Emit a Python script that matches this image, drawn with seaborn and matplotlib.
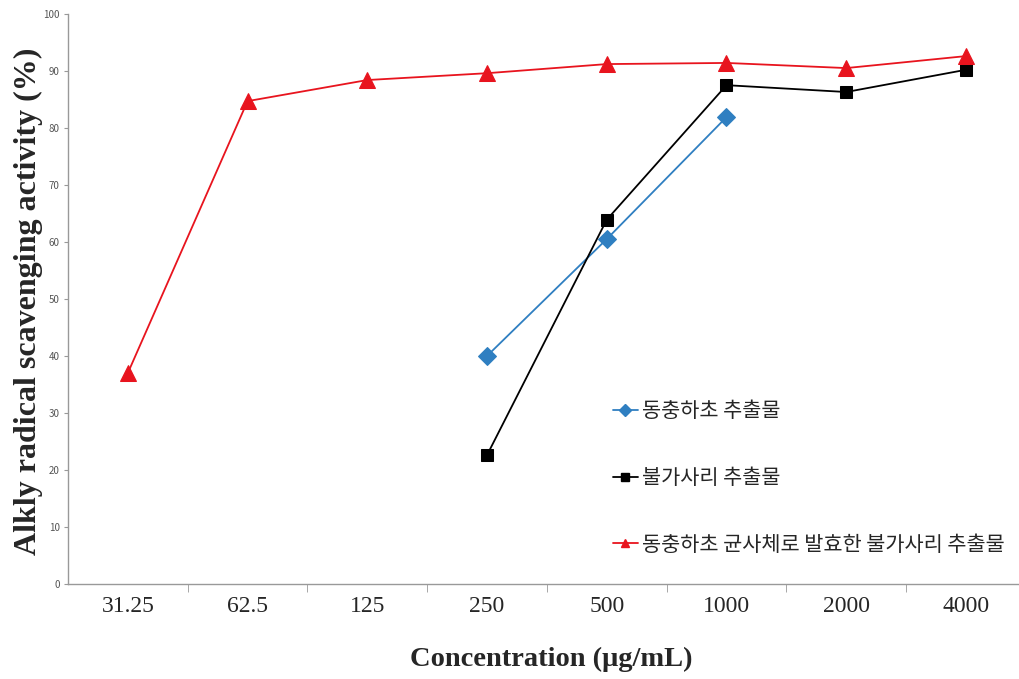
import matplotlib
matplotlib.use("Agg")
import matplotlib.pyplot as plt
import seaborn as sns
import pandas as pd
import numpy as np
from matplotlib.lines import Line2D

# concentrations on the x axis (categorical)
conc = ["31.25", "62.5", "125", "250", "500", "1000", "2000", "4000"]

# alkyl radical scavenging activity (%)
dongchung = [np.nan, np.nan, np.nan, 40.0, 60.5, 81.9, np.nan, np.nan]
bulgasari = [np.nan, np.nan, np.nan, 22.6, 63.9, 87.5, 86.3, 90.2]
fermented = [37.0, 84.7, 88.4, 89.6, 91.2, 91.4, 90.5, 92.6]

names = ["동충하초 추출물", "불가사리 추출물", "동충하초 균사체로 발효한 불가사리 추출물"]
colors = ["#2f7fc1", "black", "#e8141e"]
markers = ["D", "s", "^"]
msizes = [9, 9, 11]

sns.set_style("white")
plt.rcParams['font.family'] = ['Noto Sans CJK KR', 'DejaVu Sans']

fig = plt.figure(figsize=(10.19, 6.79), dpi=100)
ax = fig.add_axes([0.0667, 0.14, 0.94, 0.8395])

pos = list(range(len(conc)))
handles = []
for vals, name, c, m, ms in zip([dongchung, bulgasari, fermented], names,
                                colors, markers, msizes):
    df = pd.DataFrame({"x": pos, "y": vals}).dropna()
    sns.lineplot(data=df, x="x", y="y", color=c, marker=m, markersize=ms,
                 markeredgecolor=c, linewidth=1.3, ax=ax)
    handles.append(Line2D([], [], color=c, marker=m, markersize=6,
                          linewidth=1.3, label=name))

ax.set_xlim(-0.5, 7.5)
ax.set_ylim(0, 100)
ax.set_yticks(range(0, 101, 10))
ax.tick_params(axis='y', labelsize=7, labelcolor='#555555', length=3,
               color='#999999', direction='out', left=True, pad=3)

ax.set_xticks(pos)
ax.set_xticklabels(conc, family='Liberation Serif', fontsize=17)
ax.set_xticks([p + 0.5 for p in pos[:-1]], minor=True)
ax.tick_params(axis='x', which='major', length=0, pad=9)
ax.tick_params(axis='x', which='minor', length=6, color='#999999',
               direction='out', bottom=True)

for s in ['top', 'right']:
    ax.spines[s].set_visible(False)
for s in ['left', 'bottom']:
    ax.spines[s].set_color('#999999')
    ax.spines[s].set_linewidth(1.0)

ax.set_xlabel("Concentration (μg/mL)", family='Liberation Serif',
              fontweight='bold', fontsize=20.5)
ax.set_ylabel("Alkly radical scavenging activity (%)", family='Liberation Serif',
              fontweight='bold', fontsize=23)
ax.xaxis.set_label_coords(0.505, -0.11)
ax.yaxis.set_label_coords(-0.026, 0.495)

ax.legend(handles=handles, loc='upper left', bbox_to_anchor=(0.56, 0.337),
          frameon=False, fontsize=15, labelspacing=2.15, handlelength=1.2,
          handletextpad=0.2, borderaxespad=0)

fig.savefig("out.png", dpi=100)
